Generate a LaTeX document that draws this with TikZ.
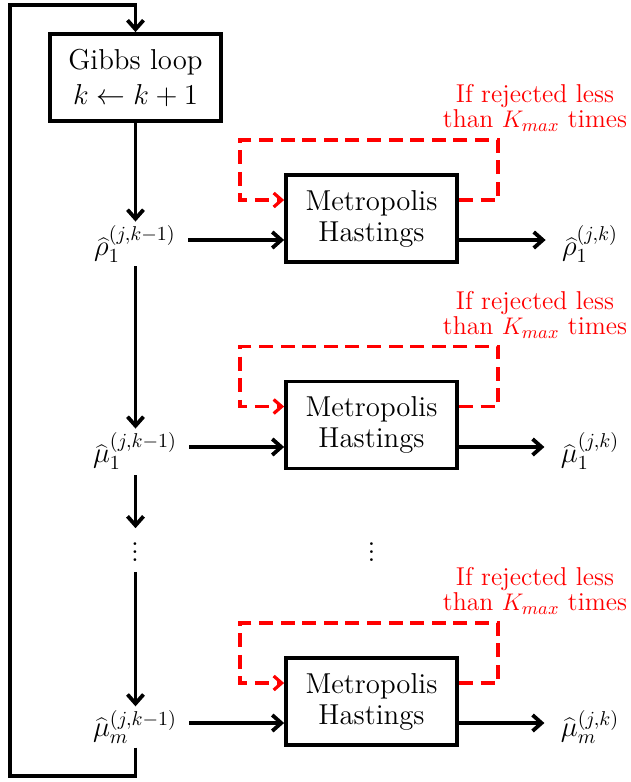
\documentclass[tikz,border=0pt]{standalone}
\usetikzlibrary{arrows.meta,calc}
\begin{document}
\begin{tikzpicture}[x=0.5pt,y=-0.5pt,
  box/.style={draw,line width=1.9pt,minimum width=85.5pt,minimum height=43.5pt,align=center,inner sep=0pt,
    font=\fontsize{14.4}{15.5}\selectfont},
  lbl/.style={inner sep=2pt,font=\Large},
  arr/.style={line width=1.9pt,-{Straight Barb[length=4.5pt,width=8pt,line width=1.9pt]}},
  redloop/.style={red,line width=1.6pt,dash pattern=on 7pt off 3.8pt,-{Straight Barb[length=4pt,width=7pt,line width=1.6pt]}},
  redlbl/.style={red,align=center,inner sep=0pt,font=\fontsize{12.9}{12.5}\selectfont}]
\useasboundingbox (0,0) rectangle (631,782);

\node[box,font=\fontsize{14.4}{17.5}\selectfont] (gibbs) at (135.5,77.5) {Gibbs loop\\$k\leftarrow k+1$};

\node[lbl] (r1) at (135,244) {$\widehat{\rho}_1^{(j,k-1)}$};
\node[lbl] (m1) at (135,451) {$\widehat{\mu}_1^{(j,k-1)}$};
\node[lbl] (dl) at (135,546) {$\vdots$};
\node[lbl] (mm) at (135,727) {$\widehat{\mu}_m^{(j,k-1)}$};

\node[box] (mh1) at (371.5,218.5) {Metropolis\\Hastings};
\node[box] (mh2) at (371.5,425) {Metropolis\\Hastings};
\node[lbl] (dr) at (371.5,546) {$\vdots$};
\node[box] (mh3) at (371.5,701.5) {Metropolis\\Hastings};

\node[lbl] (r1o) at (590,244) {$\widehat{\rho}_1^{(j,k)}$};
\node[lbl] (m1o) at (590,451) {$\widehat{\mu}_1^{(j,k)}$};
\node[lbl] (mmo) at (590,727) {$\widehat{\mu}_m^{(j,k)}$};

\node[redlbl] (t1) at (535,108) {If rejected less\\than $K_{max}$ times};
\node[redlbl] (t2) at (535,315) {If rejected less\\than $K_{max}$ times};
\node[redlbl] (t3) at (535,591) {If rejected less\\than $K_{max}$ times};

% vertical chain
\draw[arr] (gibbs.south) -- (gibbs.south |- r1.north);
\draw[arr] (r1.south -| gibbs.south) -- (m1.north -| gibbs.south);
\draw[arr] ([yshift=-1pt]m1.south -| gibbs.south) -- ([yshift=-1pt]dl.north -| gibbs.south);
\draw[arr] ([yshift=-3pt]dl.south -| gibbs.south) -- (mm.north -| gibbs.south);
\draw[arr] (mm.south -| gibbs.south) -- ++(0,28) -| (10,5) -| (gibbs.north);

% horizontal
\foreach \i/\o/\m in {r1/r1o/mh1, m1/m1o/mh2, mm/mmo/mh3}{
  \draw[arr] ([xshift=4pt,yshift=2pt]\i.east) -- ([yshift=2pt]\i.east -| \m.west);
  \draw[arr] ([yshift=2pt]\i.east -| \m.east) -- ([xshift=-6pt,yshift=2pt]\o.west);
  \draw[redloop] ([yshift=9.25pt]\m.east) -- ++(39,0) -- ++(0,-60) -- ++(-258,0) -- ++(0,60) -- ([yshift=9.25pt]\m.west);
}
\end{tikzpicture}
\end{document}
